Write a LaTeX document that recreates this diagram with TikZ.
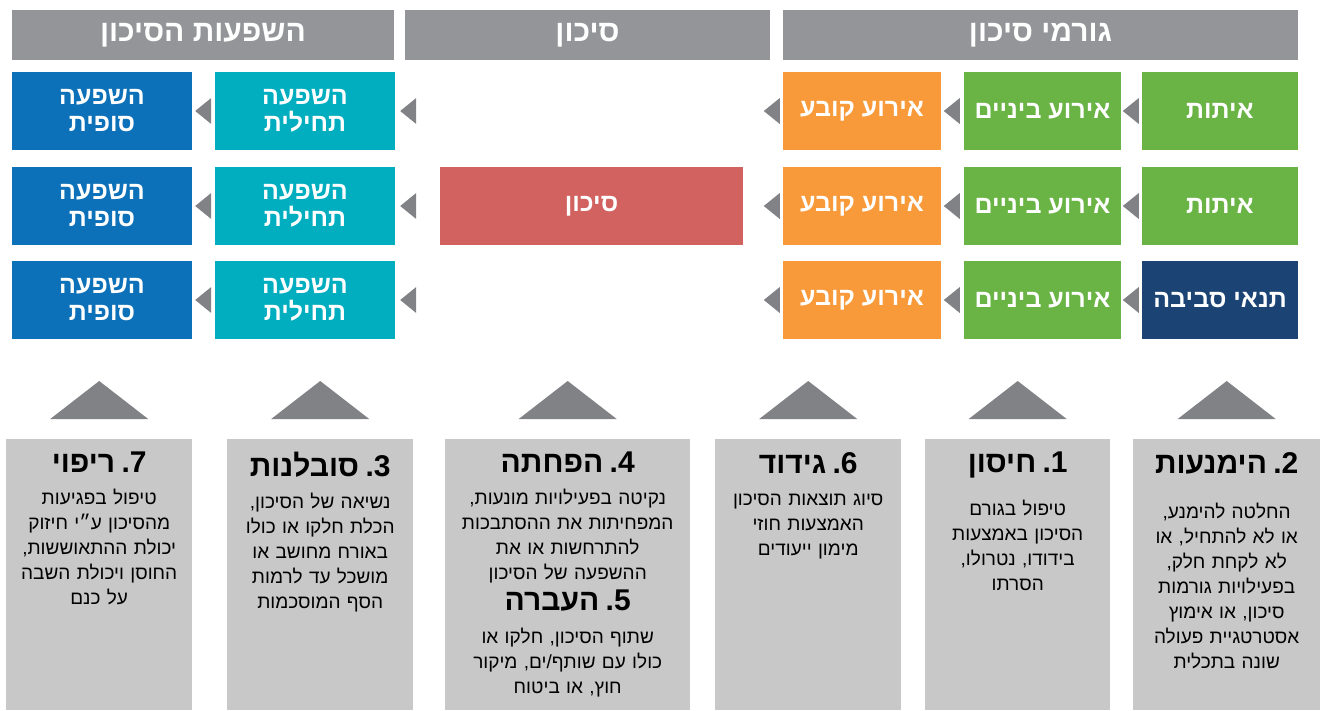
\documentclass[tikz,border=0pt]{standalone}
\usepackage{fontspec}
\usetikzlibrary{calc}
\newfontfamily\hebfont[Script=Hebrew]{Liberation Sans}
\TeXXeTstate=1
\newcommand{\rl}[1]{\beginR #1\endR}
\newcommand{\notehead}[2]{{\bfseries\fontsize{30}{25}\selectfont \mbox{\rl{#2}}\mbox{ }\mbox{#1.}}}
\newcommand{\lefttri}[1]{\fill[trigray] #1 -- ++(16,-13) -- ++(0,26) -- cycle;}
\newcommand{\uptri}[1]{\fill[trigray] #1 -- ++(-49,0) -- ++(49,-38) -- ++(49,38) -- cycle;}
\definecolor{hdrgray}{HTML}{939598}
\definecolor{trigray}{HTML}{808285}
\definecolor{boxgray}{HTML}{C8C8C8}
\definecolor{sgreen}{HTML}{6AB446}
\definecolor{sorange}{HTML}{F89A3A}
\definecolor{snavy}{HTML}{1B4475}
\definecolor{sred}{HTML}{D26260}
\definecolor{steal}{HTML}{00AEBF}
\definecolor{sblue}{HTML}{0D71B9}
\begin{document}
\begin{tikzpicture}[x=1pt, y=-1pt,
    head/.style={fill=hdrgray, text=white, inner sep=0pt, minimum height=50pt,
        font=\hebfont\bfseries\fontsize{30}{30}\selectfont},
    cell/.style={fill=#1, text=white, inner sep=0pt, minimum height=78pt, align=center,
        font=\hebfont\bfseries\fontsize{25}{27}\selectfont},
    note/.style={fill=boxgray, anchor=north west, inner sep=0pt, minimum height=271pt},
    notetext/.style={anchor=north, inner sep=0pt, align=center,
        font=\hebfont\fontsize{19}{25}\selectfont}]
    \useasboundingbox (0,0) rectangle (1320,710);
    % headers
    \node[head, minimum width=382pt] (hImpact) at (203,35) {\rl{השפעות הסיכון}};
    \node[head, minimum width=365pt] (hRisk) at (587.5,35) {\rl{סיכון}};
    \node[head, minimum width=515pt] (hFactors) at (1040.5,35) {\rl{גורמי סיכון}};
    % row 1
    \node[cell=sblue, minimum width=180pt] (fin1) at (102,111) {\rl{השפעה}\\\rl{סופית}};
    \node[cell=steal, minimum width=180pt] (init1) at (305,111) {\rl{השפעה}\\\rl{תחילית}};
    \node[cell=sorange, minimum width=158pt] (perm1) at (862,111) {\rl{אירוע קובע}};
    \node[cell=sgreen, minimum width=157pt] (mid1) at (1042.5,111) {\rl{אירוע ביניים}};
    \node[cell=sgreen, minimum width=156pt] (src1) at (1220,111) {\rl{איתות}};
    \lefttri{($(fin1.east)+(3,0)$)}
    \lefttri{($(init1.east)+(5,0)$)}
    \lefttri{($(perm1.west)+(-19,0)$)}
    \lefttri{($(mid1.west)+(-20,0)$)}
    \lefttri{($(src1.west)+(-19,0)$)}
    % row 2
    \node[cell=sblue, minimum width=180pt] (fin2) at (102,206) {\rl{השפעה}\\\rl{סופית}};
    \node[cell=steal, minimum width=180pt] (init2) at (305,206) {\rl{השפעה}\\\rl{תחילית}};
    \node[cell=sred, minimum width=303pt] (risk) at (591.5,206) {\rl{סיכון}};
    \node[cell=sorange, minimum width=158pt] (perm2) at (862,206) {\rl{אירוע קובע}};
    \node[cell=sgreen, minimum width=157pt] (mid2) at (1042.5,206) {\rl{אירוע ביניים}};
    \node[cell=sgreen, minimum width=156pt] (src2) at (1220,206) {\rl{איתות}};
    \lefttri{($(fin2.east)+(3,0)$)}
    \lefttri{($(init2.east)+(5,0)$)}
    \lefttri{($(perm2.west)+(-19,0)$)}
    \lefttri{($(mid2.west)+(-20,0)$)}
    \lefttri{($(src2.west)+(-19,0)$)}
    % row 3
    \node[cell=sblue, minimum width=180pt] (fin3) at (102,300) {\rl{השפעה}\\\rl{סופית}};
    \node[cell=steal, minimum width=180pt] (init3) at (305,300) {\rl{השפעה}\\\rl{תחילית}};
    \node[cell=sorange, minimum width=158pt] (perm3) at (862,300) {\rl{אירוע קובע}};
    \node[cell=sgreen, minimum width=157pt] (mid3) at (1042.5,300) {\rl{אירוע ביניים}};
    \node[cell=snavy, minimum width=156pt] (src3) at (1220,300) {\rl{תנאי סביבה}};
    \lefttri{($(fin3.east)+(3,0)$)}
    \lefttri{($(init3.east)+(5,0)$)}
    \lefttri{($(perm3.west)+(-19,0)$)}
    \lefttri{($(mid3.west)+(-20,0)$)}
    \lefttri{($(src3.west)+(-19,0)$)}
    % treatment boxes
    \node[note, minimum width=186pt] (nRipui) at (6,439) {};
    \node[notetext, text width=186pt] (tRipui) at ($(nRipui.north)+(0,13)$) {\notehead{7}{ריפוי}\\[7pt]
        \rl{טיפול בפגיעות}\\\rl{מהסיכון ע״י חיזוק}\\\rl{יכולת ההתאוששות,}\\\rl{החוסן ויכולת השבה}\\\rl{על כנם}};
    \node[note, minimum width=186pt] (nSovlanut) at (227,439) {};
    \node[notetext, text width=186pt] (tSovlanut) at ($(nSovlanut.north)+(0,13)$) {\notehead{3}{סובלנות}\\[7pt]
        \rl{נשיאה של הסיכון,}\\\rl{הכלת חלקו או כולו}\\\rl{באורח מחושב או}\\\rl{מושכל עד לרמות}\\\rl{הסף המוסכמות}};
    \node[note, minimum width=245pt] (nHafhata) at (445,439) {};
    \node[notetext, text width=245pt] (tHafhata) at ($(nHafhata.north)+(0,13)$) {\notehead{4}{הפחתה}\\[7pt]
        \rl{נקיטה בפעילויות מונעות,}\\\rl{המפחיתות את ההסתבכות}\\\rl{להתרחשות או את}\\\rl{ההשפעה של הסיכון}\\[6pt]
        \notehead{5}{העברה}\\[8pt]
        \rl{שתוף הסיכון, חלקו או}\\\rl{כולו עם שותף/ים, מיקור}\\\rl{חוץ, או ביטוח}};
    \node[note, minimum width=186pt] (nGidud) at (715,439) {};
    \node[notetext, text width=186pt] (tGidud) at ($(nGidud.north)+(0,13)$) {\notehead{6}{גידוד}\\[7pt]
        \rl{סיוג תוצאות הסיכון}\\\rl{האמצעות חוזי}\\\rl{מימון ייעודים}};
    \node[note, minimum width=185pt] (nHisun) at (925,439) {};
    \node[notetext, text width=185pt] (tHisun) at ($(nHisun.north)+(0,13)$) {\notehead{1}{חיסון}\\[18pt]
        \rl{טיפול בגורם}\\\rl{הסיכון באמצעות}\\\rl{בידודו, נטרולו,}\\\rl{הסרתו}};
    \node[note, minimum width=187pt] (nHimanut) at (1133,439) {};
    \node[notetext, text width=187pt] (tHimanut) at ($(nHimanut.north)+(0,13)$) {\notehead{2}{הימנעות}\\[20pt]
        \rl{החלטה להימנע,}\\\rl{או לא להתחיל, או}\\\rl{לא לקחת חלק,}\\\rl{בפעילויות גורמות}\\\rl{סיכון, או אימוץ}\\\rl{אסטרטגיית פעולה}\\\rl{שונה בתכלית}};
    % pointers up to the chain
    \uptri{($(nRipui.north)+(0,-20)$)}
    \uptri{($(nSovlanut.north)+(0,-20)$)}
    \uptri{($(nHafhata.north)+(0,-20)$)}
    \uptri{($(nGidud.north)+(0,-20)$)}
    \uptri{($(nHisun.north)+(0,-20)$)}
    \uptri{($(nHimanut.north)+(0,-20)$)}
\end{tikzpicture}
\end{document}
